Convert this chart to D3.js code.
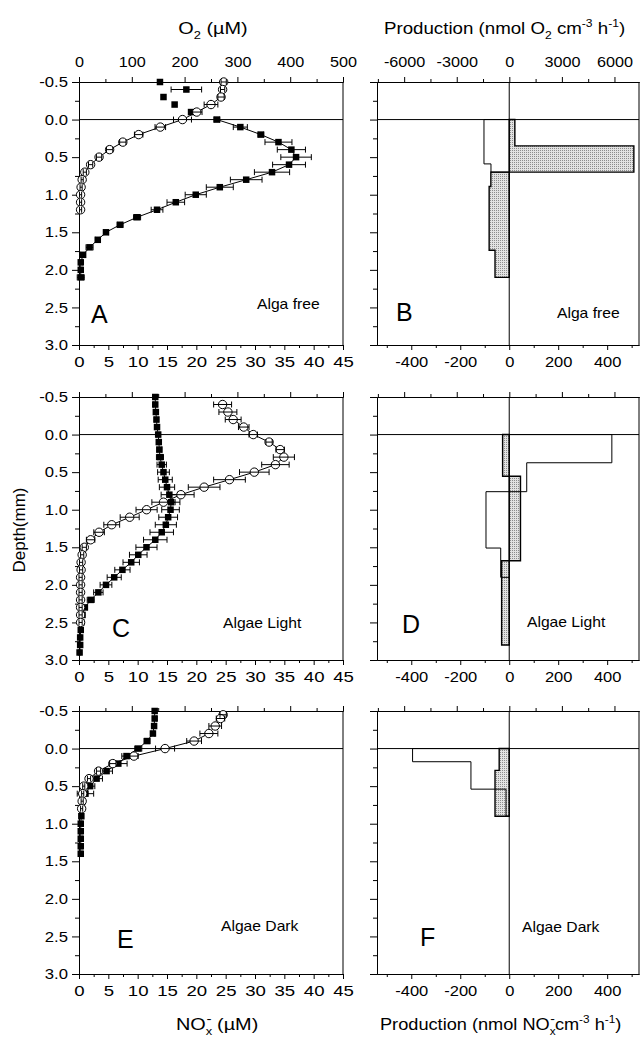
<!DOCTYPE html>
<html>
<head>
<meta charset="utf-8">
<script src="https://cdn.jsdelivr.net/npm/d3@7"></script>
<style>
    body { margin: 0; background: #fff; }
</style>
</head>
<body>
<depth-profiles></depth-profiles>
<script>

// ---------- DATA ----------

// tick values
const depthTicks = [-0.5, 0.0, 0.5, 1.0, 1.5, 2.0, 2.5, 3.0];
const depthMinorTicks = [-0.25, 0.25, 0.75, 1.25, 1.75, 2.25, 2.75];
const noxTicks = [0, 5, 10, 15, 20, 25, 30, 35, 40, 45];
const noxMinorTicks = [2.5, 7.5, 12.5, 17.5, 22.5, 27.5, 32.5, 37.5, 42.5];
const o2Ticks = [0, 100, 200, 300, 400, 500];
const o2MinorTicks = [50, 150, 250, 350, 450];
const prodO2Ticks = [-6000, -3000, 0, 3000, 6000];
const prodO2MinorTicks = [-7500, -4500, -1500, 1500, 4500];
const prodNoxTicks = [-400, -200, 0, 200, 400];
const prodNoxMinorTicks = [-500, -300, -100, 100, 300, 500];

// A - alga free, NOx (filled squares, µM)
const noxDepthA = [-0.5, -0.4, -0.3, -0.2, -0.1, 0.0, 0.1, 0.2, 0.3, 0.4, 0.5, 0.6, 0.7, 0.8, 0.9, 1.0, 1.1, 1.2, 1.3, 1.4, 1.5, 1.6, 1.7, 1.8, 1.9, 2.0, 2.1];
const noxA = [13.8, 18.3, 14.4, 16.3, 19.1, 23.5, 27.5, 31.0, 34.0, 36.2, 37.0, 35.8, 32.9, 28.5, 24.0, 19.9, 16.5, 13.3, 9.9, 7.0, 4.6, 3.2, 1.8, 0.7, 0.3, 0.3, 0.3];
const noxErrA = [0, 2.6, 0, 0, 0, 0.5, 1.2, 0.5, 2.3, 2.4, 2.6, 2.8, 3.0, 2.7, 2.3, 1.8, 1.5, 1.0, 0.6, 0.5, 0.4, 0.4, 0.6, 0.4, 0.3, 0.3, 0.6];

// A - alga free, O2 (open circles, µM)
const o2DepthA = [-0.5, -0.4, -0.3, -0.2, -0.1, 0.0, 0.1, 0.2, 0.3, 0.4, 0.5, 0.6, 0.7, 0.8, 0.9, 1.0, 1.1, 1.2];
const o2A = [274, 272, 269, 250, 223, 196, 154, 113, 83, 58, 38, 22, 11, 6, 4, 3, 3, 3];
const o2ErrA = [5, 4, 6, 13, 10, 17, 10, 8, 6, 6, 5, 4, 3, 2, 2, 2, 2, 2];

// C - algae light, NOx
const noxDepthC = [-0.5, -0.4, -0.3, -0.2, -0.1, 0.0, 0.1, 0.2, 0.3, 0.4, 0.5, 0.6, 0.7, 0.8, 0.9, 1.0, 1.1, 1.2, 1.3, 1.4, 1.5, 1.6, 1.7, 1.8, 1.9, 2.0, 2.1, 2.2, 2.3, 2.4, 2.5, 2.6, 2.7, 2.8, 2.9];
const noxC = [13.0, 13.0, 13.1, 13.2, 13.3, 13.5, 13.6, 13.7, 13.8, 14.1, 14.4, 14.7, 15.0, 15.4, 15.7, 15.6, 15.2, 14.8, 14.1, 13.0, 11.5, 10.1, 8.9, 7.4, 6.0, 4.6, 3.3, 2.0, 1.0, 0.6, 0.4, 0.3, 0.2, 0.2, 0.1];
const noxErrC = [0.3, 0.3, 0.3, 0.3, 0.3, 0.3, 0.3, 0.4, 0.6, 0.8, 1.0, 1.2, 1.3, 1.4, 1.5, 1.5, 1.6, 1.8, 2.0, 2.0, 1.8, 1.5, 1.4, 1.3, 1.2, 1.0, 0.8, 0.6, 0.4, 0.3, 0.2, 0.2, 0.2, 0.2, 0.2];

// C - algae light, O2
const o2DepthC = [-0.4, -0.3, -0.2, -0.1, 0.0, 0.1, 0.2, 0.3, 0.4, 0.5, 0.6, 0.7, 0.8, 0.9, 1.0, 1.1, 1.2, 1.3, 1.4, 1.5, 1.6, 1.7, 1.8, 1.9, 2.0, 2.1, 2.2, 2.3, 2.4, 2.5];
const o2C = [272, 282, 292, 312, 330, 360, 381, 388, 372, 332, 285, 237, 193, 160, 128, 96, 62, 38, 22, 10, 6, 4, 4, 3, 3, 3, 3, 3, 3, 3];
const o2ErrC = [17, 17, 15, 10, 8, 6, 8, 20, 26, 28, 30, 30, 25, 22, 20, 18, 15, 10, 8, 4, 3, 3, 3, 3, 3, 3, 3, 3, 3, 3];

// E - algae dark, NOx
const noxDepthE = [-0.5, -0.4, -0.3, -0.2, -0.1, 0.0, 0.1, 0.2, 0.3, 0.4, 0.5, 0.6, 0.7, 0.8, 0.9, 1.0, 1.1, 1.2, 1.3, 1.4];
const noxE = [12.9, 12.9, 12.8, 12.6, 11.6, 10.1, 8.1, 6.7, 4.7, 3.0, 1.9, 1.1, 0.6, 0.5, 0.4, 0.3, 0.3, 0.3, 0.3, 0.3];
const noxErrE = [0.3, 0.3, 0.3, 0.3, 0.5, 0.6, 0.8, 1.5, 1.0, 1.0, 0.8, 1.4, 0.5, 0.3, 0.3, 0.3, 0.3, 0.3, 0.3, 0.3];

// E - algae dark, O2
const o2DepthE = [-0.45, -0.4, -0.3, -0.2, -0.1, 0.0, 0.1, 0.2, 0.3, 0.4, 0.5, 0.6, 0.7, 0.8];
const o2E = [273, 268, 258, 246, 218, 163, 104, 64, 37, 19, 9, 7, 6, 5];
const o2ErrE = [6, 8, 12, 17, 14, 18, 8, 6, 4, 3, 2, 2, 2, 2];

// production step profiles: layer edges (mm) and rates per layer
// B - alga free
const prodO2EdgesB = [0, 0.59, 0.70];
const prodO2B = [-1446, -1046];
const prodNoxEdgesB = [0, 0.35, 0.70, 0.89, 1.74, 2.10];
const prodNoxB = [23, 509, -75, -82, -58];

// D - algae light
const prodO2EdgesD = [0, 0.375, 0.76, 1.51, 1.90];
const prodO2D = [5851, 994, -1331, -491];
const prodNoxEdgesD = [0, 0.555, 1.68, 2.80];
const prodNoxD = [-27, 46, -31];

// F - algae dark
const prodO2EdgesF = [0, 0.175, 0.54, 0.90];
const prodO2F = [-5520, -2189, -189];
const prodNoxEdgesF = [0, 0.29, 0.90];
const prodNoxF = [-41, -58];


class DepthProfiles extends HTMLElement {

    constructor() {
        super();
        this.attachShadow({ mode: "open" });
        this.render();
        this.d3Logic();
    }

    zip(depths, values, errors) {
        return depths.map((d, i) => ({ d: d, v: values[i], e: errors ? errors[i] : 0 }));
    }

    steps(edges, values) {
        let points = [[0, edges[0]]];
        values.forEach((v, i) => {
            points.push([v, edges[i]]);
            points.push([v, edges[i + 1]]);
        });
        points.push([0, edges[edges.length - 1]]);
        return points;
    }

    // the original lettering is a bit wider than Arial, stretch it sideways around its anchor
    stretch(sel, s) {
        sel.attr("transform", function () {
            let x = +this.getAttribute("x") || 0;
            return `translate(${x * (1 - s)},0) scale(${s},1)`;
        });
    }

    d3Logic() {

        let svg = d3.select(this.shadowRoot.querySelector("svg"))
            .attr("width", 642)
            .attr("height", 1040);

        svg.selectAll("*").remove();

        // stipple fill for NOx production bars
        let pattern = svg.append("defs").append("pattern")
            .attr("id", "stipple")
            .attr("width", 2)
            .attr("height", 2)
            .attr("patternUnits", "userSpaceOnUse");
        pattern.append("rect").attr("width", 2).attr("height", 2).attr("fill", "#e2e2e2");
        pattern.append("rect").attr("width", 1).attr("height", 1).attr("fill", "#8c8c8c");

        let rowTops = [82, 397, 711];
        let panelHeight = 263;
        let leftRange = [79, 343];
        let rightRange = [377, 639];

        let rows = [
            {
                nox: this.zip(noxDepthA, noxA, noxErrA), noxLineFrom: 0,
                o2: this.zip(o2DepthA, o2A, o2ErrA),
                prodO2: this.steps(prodO2EdgesB, prodO2B),
                prodNox: this.steps(prodNoxEdgesB, prodNoxB),
                letters: ["A", "B"], name: "Alga free",
                letterPos: [[91, 241], [396, 239]], namePos: [[257, 227], [557, 236]]
            },
            {
                nox: this.zip(noxDepthC, noxC, noxErrC), noxLineFrom: -1,
                o2: this.zip(o2DepthC, o2C, o2ErrC),
                prodO2: this.steps(prodO2EdgesD, prodO2D),
                prodNox: this.steps(prodNoxEdgesD, prodNoxD),
                letters: ["C", "D"], name: "Algae Light",
                letterPos: [[112, 240], [402, 236]], namePos: [[223, 231], [527, 230]]
            },
            {
                nox: this.zip(noxDepthE, noxE, noxErrE), noxLineFrom: -1,
                o2: this.zip(o2DepthE, o2E, o2ErrE),
                prodO2: this.steps(prodO2EdgesF, prodO2F),
                prodNox: this.steps(prodNoxEdgesF, prodNoxF),
                letters: ["E", "F"], name: "Algae Dark",
                letterPos: [[117, 237], [420, 235]], namePos: [[221, 220], [522, 221]]
            }
        ];

        let font = "'Liberation Sans', Arial, Helvetica, sans-serif";
        let depthFormat = d => d.toFixed(1);

        rows.forEach((row, i) => {
            let top = rowTops[i];
            let y = d3.scaleLinear().domain([-0.5, 3.0]).range([top, top + panelHeight]);

            let xNox = d3.scaleLinear().domain([0, 45]).range(leftRange);
            let xO2 = d3.scaleLinear().domain([0, 500]).range(leftRange);
            let xProdO2 = d3.scaleLinear().domain([-7550, 7400]).range(rightRange);
            let xProdNox = d3.scaleLinear().domain([-540, 530]).range(rightRange);

            // LEFT PANEL (concentration profiles)
            let left = svg.append("g").attr("class", "profile");

            this.drawAxes(left, y, xO2, xNox, leftRange, top, panelHeight,
                { top: o2Ticks, topMinor: o2MinorTicks, bottom: noxTicks, bottomMinor: noxMinorTicks,
                  topLabels: i == 0, leftLabels: true, depthFormat: depthFormat, font: font,
                  bottomFont: 15.5, bottomStretch: 1.2 });

            // surface line
            left.append("line")
                .attr("x1", leftRange[0]).attr("x2", leftRange[1])
                .attr("y1", y(0)).attr("y2", y(0))
                .attr("stroke", "black").attr("stroke-width", 1);

            let noxLine = d3.line().x(d => xNox(d.v)).y(d => y(d.d));
            let o2Line = d3.line().x(d => xO2(d.v)).y(d => y(d.d));

            left.append("path")
                .datum(row.nox.filter(d => d.d >= row.noxLineFrom))
                .attr("d", noxLine)
                .attr("fill", "none").attr("stroke", "black").attr("stroke-width", 1);

            left.append("path")
                .datum(row.o2)
                .attr("d", o2Line)
                .attr("fill", "none").attr("stroke", "black").attr("stroke-width", 1);

            // filled squares
            this.errorBars(left, row.nox, xNox, y);
            left.selectAll(".sq")
                .data(row.nox)
                .enter()
                .append("rect")
                .attr("class", "sq")
                .attr("x", d => xNox(d.v) - 3.25)
                .attr("y", d => y(d.d) - 3.25)
                .attr("width", 6.5)
                .attr("height", 6.5)
                .attr("fill", "black");

            // open circles
            left.selectAll(".circ")
                .data(row.o2)
                .enter()
                .append("circle")
                .attr("class", "circ")
                .attr("cx", d => xO2(d.v))
                .attr("cy", d => y(d.d))
                .attr("r", 4.2)
                .attr("fill", "white")
                .attr("stroke", "black")
                .attr("stroke-width", 1);
            this.errorBars(left, row.o2, xO2, y);

            left.append("text")
                .attr("x", row.letterPos[0][0]).attr("y", top + row.letterPos[0][1])
                .style("font-family", font).style("font-size", "25px")
                .text(row.letters[0]);
            left.append("text")
                .attr("x", row.namePos[0][0]).attr("y", top + row.namePos[0][1])
                .style("font-family", font).style("font-size", "14.5px")
                .text(row.name)
                .call(t => this.stretch(t, 1.08));

            // RIGHT PANEL (production)
            let right = svg.append("g").attr("class", "production");

            let prodNoxLine = d3.line().x(p => xProdNox(p[0])).y(p => y(p[1]));
            let prodO2Line = d3.line().x(p => xProdO2(p[0])).y(p => y(p[1]));

            right.append("path")
                .attr("d", prodNoxLine(row.prodNox) + "Z")
                .attr("fill", "url(#stipple)")
                .attr("stroke", "black")
                .attr("stroke-width", 1.4);

            right.append("path")
                .attr("d", prodO2Line(row.prodO2))
                .attr("fill", "none")
                .attr("stroke", "black")
                .attr("stroke-width", 1);

            this.drawAxes(right, y, xProdO2, xProdNox, rightRange, top, panelHeight,
                { top: prodO2Ticks, topMinor: prodO2MinorTicks, bottom: prodNoxTicks, bottomMinor: prodNoxMinorTicks,
                  topLabels: i == 0, leftLabels: false, depthFormat: depthFormat, font: font,
                  bottomFont: 15, bottomStretch: 1.1 });

            // surface line + zero line
            right.append("line")
                .attr("x1", rightRange[0]).attr("x2", rightRange[1])
                .attr("y1", y(0)).attr("y2", y(0))
                .attr("stroke", "black").attr("stroke-width", 1);
            right.append("line")
                .attr("x1", xProdNox(0)).attr("x2", xProdNox(0))
                .attr("y1", top).attr("y2", top + panelHeight)
                .attr("stroke", "black").attr("stroke-width", 1);

            right.append("text")
                .attr("x", row.letterPos[1][0]).attr("y", top + row.letterPos[1][1])
                .style("font-family", font).style("font-size", "25px")
                .text(row.letters[1]);
            right.append("text")
                .attr("x", row.namePos[1][0]).attr("y", top + row.namePos[1][1])
                .style("font-family", font).style("font-size", "14.5px")
                .text(row.name)
                .call(t => this.stretch(t, 1.08));
        });

        // AXIS TITLES
        let title = (x, y, anchor, s) => svg.append("g")
            .attr("transform", `translate(${x},${y}) scale(${s},1)`)
            .append("text")
            .attr("text-anchor", anchor)
            .style("font-family", font)
            .style("font-size", "17px");

        let o2Title = title(213, 34, "middle", 1.17);
        o2Title.append("tspan").text("O");
        o2Title.append("tspan").attr("dy", 5).style("font-size", "11px").text("2");
        o2Title.append("tspan").attr("dy", -5).text(" (µM)");

        let prodO2Title = title(384, 34, "start", 1.1);
        prodO2Title.append("tspan").text("Production (nmol O");
        prodO2Title.append("tspan").attr("dy", 5).style("font-size", "11px").text("2");
        prodO2Title.append("tspan").attr("dy", -5).text(" cm");
        prodO2Title.append("tspan").attr("dy", -7).style("font-size", "11px").text("-3");
        prodO2Title.append("tspan").attr("dy", 7).text(" h");
        prodO2Title.append("tspan").attr("dy", -7).style("font-size", "11px").text("-1");
        prodO2Title.append("tspan").attr("dy", 7).text(")");

        let noxTitle = title(176, 1030, "start", 1.17);
        noxTitle.append("tspan").text("NO");
        noxTitle.append("tspan").attr("dy", 5).style("font-size", "11px").text("x");
        noxTitle.append("tspan").attr("dx", -5).attr("dy", -12).style("font-size", "13px").text("-");
        noxTitle.append("tspan").attr("dy", 7).text(" (µM)");

        let prodNoxTitle = title(380, 1030, "start", 1.07);
        prodNoxTitle.append("tspan").text("Production (nmol NO");
        prodNoxTitle.append("tspan").attr("dy", 5).style("font-size", "11px").text("x");
        prodNoxTitle.append("tspan").attr("dx", -5).attr("dy", -12).style("font-size", "13px").text("-");
        prodNoxTitle.append("tspan").attr("dy", 7).text("cm");
        prodNoxTitle.append("tspan").attr("dy", -7).style("font-size", "11px").text("-3");
        prodNoxTitle.append("tspan").attr("dy", 7).text(" h");
        prodNoxTitle.append("tspan").attr("dy", -7).style("font-size", "11px").text("-1");
        prodNoxTitle.append("tspan").attr("dy", 7).text(")");

        svg.append("text")
            .attr("transform", "translate(25,530) rotate(-90)")
            .attr("text-anchor", "middle")
            .style("font-family", font)
            .style("font-size", "17px")
            .text("Depth(mm)");
    }

    errorBars(g, data, x, y) {
        let withErr = data.filter(d => d.e > 0);
        let bars = g.append("g").attr("stroke", "black").attr("stroke-width", 1);
        withErr.forEach(d => {
            let x0 = x(d.v - d.e), x1 = x(d.v + d.e), yy = y(d.d);
            bars.append("line").attr("x1", x0).attr("x2", x1).attr("y1", yy).attr("y2", yy);
            bars.append("line").attr("x1", x0).attr("x2", x0).attr("y1", yy - 3).attr("y2", yy + 3);
            bars.append("line").attr("x1", x1).attr("x2", x1).attr("y1", yy - 3).attr("y2", yy + 3);
        });
    }

    drawAxes(g, y, xTop, xBottom, range, top, height, o) {
        let style = sel => {
            sel.selectAll("path, line").attr("stroke", "black").attr("stroke-width", 1);
            sel.selectAll("text").style("font-family", o.font).attr("fill", "black");
        };

        // left (depth)
        g.append("g")
            .attr("transform", `translate(${range[0]},0)`)
            .call(d3.axisLeft(y).tickValues(depthTicks).tickSizeInner(7).tickSizeOuter(0).tickPadding(4)
                .tickFormat(o.leftLabels ? o.depthFormat : ""))
            .call(style)
            .selectAll("text").style("font-size", "14.5px")
            .call(t => this.stretch(t, 1.15));
        g.append("g")
            .attr("transform", `translate(${range[0]},0)`)
            .call(d3.axisLeft(y).tickValues(depthMinorTicks).tickSizeInner(4).tickSizeOuter(0).tickFormat(""))
            .call(style);

        // top
        g.append("g")
            .attr("transform", `translate(0,${top})`)
            .call(d3.axisTop(xTop).tickValues(o.top).tickSizeInner(5).tickSizeOuter(0).tickPadding(10)
                .tickFormat(o.topLabels ? (d => String(d)) : ""))
            .call(style)
            .selectAll("text").style("font-size", "15px")
            .call(t => this.stretch(t, 1.08));
        g.append("g")
            .attr("transform", `translate(0,${top})`)
            .call(d3.axisTop(xTop).tickValues(o.topMinor).tickSizeInner(3).tickSizeOuter(0).tickFormat(""))
            .call(style);

        // bottom
        g.append("g")
            .attr("transform", `translate(0,${top + height})`)
            .call(d3.axisBottom(xBottom).tickValues(o.bottom).tickSizeInner(5).tickSizeOuter(0).tickPadding(6)
                .tickFormat(d => String(d)))
            .call(style)
            .selectAll("text").style("font-size", o.bottomFont + "px")
            .call(t => this.stretch(t, o.bottomStretch));
        g.append("g")
            .attr("transform", `translate(0,${top + height})`)
            .call(d3.axisBottom(xBottom).tickValues(o.bottomMinor).tickSizeInner(3).tickSizeOuter(0).tickFormat(""))
            .call(style);

        // right border
        g.append("line")
            .attr("x1", range[1]).attr("x2", range[1])
            .attr("y1", top).attr("y2", top + height)
            .attr("stroke", "black").attr("stroke-width", 1);
    }

    render() {
        this.shadowRoot.innerHTML = `
        <style>
            :host { display: block; }
            svg { display: block; background: white; }
        </style>
        <svg></svg>
        `;
    }
}

customElements.define("depth-profiles", DepthProfiles);
</script>
</body>
</html>
